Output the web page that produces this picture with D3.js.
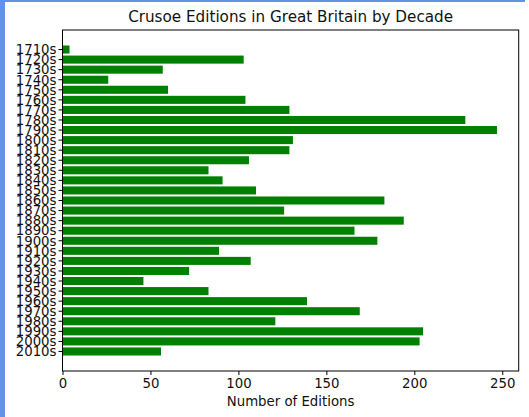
<!DOCTYPE html>
<html>
<head>
<meta charset="utf-8">
<script src="https://cdn.jsdelivr.net/npm/d3@7"></script>
<style>
  body { margin: 0; background: #fff; }
  text { font-family: "DejaVu Sans", sans-serif; fill: #111; }
</style>
</head>
<body>
<div id="mount"></div>
<script>
// decades, top to bottom
var decades = ['1710s', '1720s', '1730s', '1740s', '1750s', '1760s', '1770s', '1780s',
  '1790s', '1800s', '1810s', '1820s', '1830s', '1840s', '1850s', '1860s', '1870s',
  '1880s', '1890s', '1900s', '1910s', '1920s', '1930s', '1940s', '1950s', '1960s',
  '1970s', '1980s', '1990s', '2000s', '2010s'];

// number of editions per decade
var editions = [4, 103, 57, 26, 60, 104, 129, 229, 247, 131, 129, 106, 83, 91, 110,
  183, 126, 194, 166, 179, 89, 107, 72, 46, 83, 139, 169, 121, 205, 203, 56];

var xTicks = [0, 50, 100, 150, 200, 250];

var W = 529, H = 417;
var margin = { top: 30, right: 10.3, bottom: 46, left: 62.5 };
var width = W - margin.left - margin.right,
    height = H - margin.top - margin.bottom;

var svg = d3.select('#mount').append('svg')
    .attr('width', W)
    .attr('height', H);

// window frame strips
svg.append('rect').attr('x', 0).attr('y', 0).attr('width', 525).attr('height', 2).attr('fill', '#6393e8');
svg.append('rect').attr('x', 0).attr('y', 0).attr('width', 5).attr('height', H).attr('fill', '#6393e8');

var graph = svg.append('g')
    .attr('transform', `translate(${margin.left},${margin.top})`);

var data = decades.map((d, i) => ({ decade: d, count: editions[i] }));

// matplotlib style 5% headroom on the right
var x = d3.scaleLinear()
    .domain([0, d3.max(editions) * 1.05])
    .range([0, width]);

var y = d3.scaleBand()
    .domain(decades)
    .range([0, height])
    .paddingInner(0.2)
    .paddingOuter(1.54);

graph.selectAll('.bar')
    .data(data)
  .enter().append('rect')
    .attr('class', 'bar')
    .attr('x', x(0))
    .attr('y', d => y(d.decade))
    .attr('width', d => x(d.count) - x(0))
    .attr('height', y.bandwidth())
    .attr('fill', 'green');

var xAxis = d3.axisBottom(x).tickValues(xTicks).tickSize(4).tickPadding(4);
var yAxis = d3.axisLeft(y).tickSize(4).tickPadding(2);

var gx = graph.append('g')
    .attr('class', 'x-axis')
    .attr('transform', `translate(0,${height})`)
    .call(xAxis);

var gy = graph.append('g')
    .attr('class', 'y-axis')
    .call(yAxis);

[gx, gy].forEach(g => {
  g.select('.domain').remove();
  g.selectAll('line').attr('stroke', '#000');
  g.selectAll('text').style('font-size', '13.3px').style('font-family', '"DejaVu Sans", sans-serif');
});
gy.selectAll('text').attr('dy', '0.36em');

// frame
graph.append('rect')
    .attr('x', 0).attr('y', 0)
    .attr('width', width).attr('height', height)
    .attr('fill', 'none')
    .attr('stroke', '#000')
    .attr('stroke-width', 1);

graph.append('text')
    .attr('x', width / 2)
    .attr('y', -8)
    .attr('text-anchor', 'middle')
    .style('font-size', '15.2px')
    .text('Crusoe Editions in Great Britain by Decade');

graph.append('text')
    .attr('x', width / 2)
    .attr('y', height + 35)
    .attr('text-anchor', 'middle')
    .style('font-size', '13.3px')
    .text('Number of Editions');
</script>
</body>
</html>
